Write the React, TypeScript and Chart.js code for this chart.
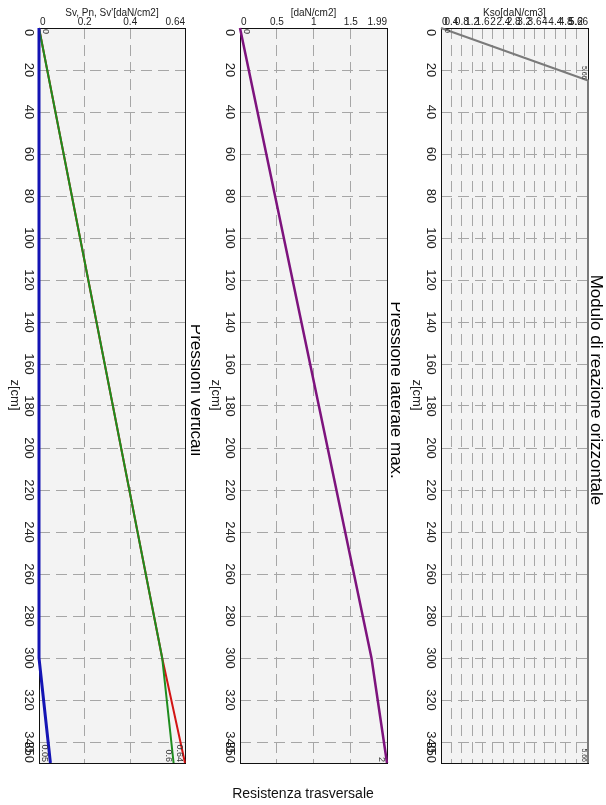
import React, { useEffect, useRef } from 'react';
import { Chart, registerables } from 'chart.js';

Chart.register(...registerables);

// ---------- data ----------
const depthTicks = [0, 20, 40, 60, 80, 100, 120, 140, 160, 180, 200, 220, 240, 260, 280, 300, 320, 340, 350];
const depthMax = 350;

const panel1XTicks = [0, 0.2, 0.4, 0.64];
const panel2XTicks = [0, 0.5, 1, 1.5, 1.99];
const panel3XTicks = [0, 0.4, 0.8, 1.2, 1.6, 2, 2.4, 2.8, 3.2, 3.6, 4, 4.4, 4.8, 5.2, 5.66];

// Pressioni verticali
const pnDepth = [0, 300, 350];
const pnValues = [0, 0, 0.05];
const svEffDepth = [0, 300, 350];
const svEffValues = [0, 0.54, 0.59];
const svDepth = [0, 300, 350];
const svValues = [0, 0.54, 0.64];

// Pressione laterale max.
const latDepth = [0, 300, 350];
const latValues = [0, 1.78, 1.99];

// Modulo di reazione orizzontale
const ksoDepth = [0, 25, 350];
const ksoValues = [0, 5.66, 5.66];

const panel1Labels = ['0', '0.05', '0.6', '0.64'];
const panel2Labels = ['0', '2'];
const panel3Labels = ['0', '5.66', '5.66'];

// ---------- layout ----------
const H = 805;
const PLOT_TOP = 28;
const PLOT_BOTTOM = 763;
const FONT = '"Liberation Sans", Arial, sans-serif';
const GRID = '#a6a6a6';

type LabelSpec = { ds: number; idx: number; text: string; at: 'start' | 'end'; size: number };
type Panel = {
  left: number;
  width: number;
  padLeft: number;
  padRight: number;
  xMax: number;
  xTicks: number[];
  xTitle: string;
  title: string;
  datasets: any[];
  labels: LabelSpec[];
};

const mk = (xs: number[], ys: number[], color: string, width: number) => ({
  data: xs.map((x, i) => ({ x, y: ys[i] })),
  borderColor: color,
  backgroundColor: color,
  borderWidth: width,
  showLine: true,
  pointRadius: 0,
  pointHoverRadius: 0,
  tension: 0,
  fill: false,
  clip: false,
});

const panels: Panel[] = [
  {
    left: 0,
    width: 200,
    padLeft: 39,
    padRight: 15,
    xMax: 0.64,
    xTicks: panel1XTicks,
    xTitle: "Sv, Pn, Sv'[daN/cm2]",
    title: 'Pressioni verticali',
    datasets: [
      mk(pnValues, pnDepth, '#1414b4', 3),
      mk(svEffValues, svEffDepth, '#1e8c1e', 2),
      mk(svValues, svDepth, '#d21414', 2),
    ],
    labels: [
      { ds: 1, idx: 0, text: panel1Labels[0], at: 'start', size: 9 },
      { ds: 0, idx: 2, text: panel1Labels[1], at: 'end', size: 9 },
      { ds: 1, idx: 2, text: panel1Labels[2], at: 'end', size: 9 },
      { ds: 2, idx: 2, text: panel1Labels[3], at: 'end', size: 9 },
    ],
  },
  {
    left: 200,
    width: 200,
    padLeft: 40,
    padRight: 13,
    xMax: 1.99,
    xTicks: panel2XTicks,
    xTitle: '[daN/cm2]',
    title: 'Pressione laterale max.',
    datasets: [mk(latValues, latDepth, '#7d137d', 2.5)],
    labels: [
      { ds: 0, idx: 0, text: panel2Labels[0], at: 'start', size: 9 },
      { ds: 0, idx: 2, text: panel2Labels[1], at: 'end', size: 9 },
    ],
  },
  {
    left: 400,
    width: 206,
    padLeft: 41,
    padRight: 18,
    xMax: 5.66,
    xTicks: panel3XTicks,
    xTitle: 'Kso[daN/cm3]',
    title: 'Modulo di reazione orizzontale',
    datasets: [mk(ksoValues, ksoDepth, '#7a7a7a', 2)],
    labels: [
      { ds: 0, idx: 0, text: panel3Labels[0], at: 'start', size: 7 },
      { ds: 0, idx: 1, text: panel3Labels[1], at: 'end', size: 7 },
      { ds: 0, idx: 2, text: panel3Labels[2], at: 'end', size: 7 },
    ],
  },
];

function rotText(ctx: CanvasRenderingContext2D, text: string, x: number, y: number, align: CanvasTextAlign, baseline: CanvasTextBaseline) {
  ctx.save();
  ctx.translate(x, y);
  ctx.rotate(Math.PI / 2);
  ctx.textAlign = align;
  ctx.textBaseline = baseline;
  ctx.fillText(text, 0, 0);
  ctx.restore();
}

function makePlugin(p: Panel) {
  return {
    id: 'panelDecor',
    beforeDraw(chart: any) {
      const { ctx, chartArea: a } = chart;
      ctx.save();
      ctx.fillStyle = '#f3f3f3';
      ctx.fillRect(a.left, a.top, a.right - a.left, a.bottom - a.top);
      ctx.restore();
    },
    beforeDatasetsDraw(chart: any) {
      const { ctx, chartArea: a } = chart;
      ctx.save();
      ctx.strokeStyle = '#111';
      ctx.lineWidth = 1;
      ctx.strokeRect(Math.round(a.left) + 0.5, Math.round(a.top) + 0.5, Math.round(a.right - a.left), Math.round(a.bottom - a.top));
      ctx.restore();
    },
    afterDraw(chart: any) {
      const { ctx, chartArea: a, scales } = chart;
      const xs = scales.x;
      const ys = scales.y;
      ctx.save();
      ctx.fillStyle = '#222';
      // x axis title
      ctx.font = `10px ${FONT}`;
      ctx.textAlign = 'center';
      ctx.textBaseline = 'middle';
      ctx.fillText(p.xTitle, (a.left + a.right) / 2, 13);
      // x tick labels
      p.xTicks.forEach((v, i) => {
        const px = xs.getPixelForValue(v);
        ctx.textAlign = i === 0 ? 'left' : i === p.xTicks.length - 1 ? 'right' : 'center';
        ctx.fillText(String(v), i === 0 ? px + 1 : px, 22);
      });
      // y tick labels (rotated)
      ctx.font = `13px ${FONT}`;
      depthTicks.forEach((v, i) => {
        const py = ys.getPixelForValue(v);
        const align: CanvasTextAlign = i === 0 ? 'left' : i === depthTicks.length - 1 ? 'right' : 'center';
        rotText(ctx, String(v), a.left - 10, i === 0 ? py + 1 : py, align, 'middle');
      });
      // z[cm]
      ctx.font = `13px ${FONT}`;
      rotText(ctx, 'z[cm]', a.left - 24, 395, 'center', 'middle');
      // panel title
      ctx.fillStyle = '#000';
      ctx.font = `17px ${FONT}`;
      rotText(ctx, p.title, 196, 390, 'center', 'middle');
      // point labels
      ctx.fillStyle = '#333';
      p.labels.forEach((l) => {
        const pt = chart.getDatasetMeta(l.ds).data[l.idx];
        ctx.font = `${l.size}px ${FONT}`;
        if (l.at === 'start') {
          rotText(ctx, l.text, pt.x + 2, pt.y + 1, 'left', 'bottom');
        } else {
          rotText(ctx, l.text, pt.x - 1, pt.y - 1, 'right', 'top');
        }
      });
      ctx.restore();
    },
  };
}

function PanelChart({ p }: { p: Panel }) {
  const ref = useRef<HTMLCanvasElement>(null);
  useEffect(() => {
    const canvas = ref.current!;
    const chart = new Chart(canvas, {
      type: 'scatter',
      data: { datasets: p.datasets },
      options: {
        animation: false,
        responsive: false,
        maintainAspectRatio: false,
        layout: { padding: { left: p.padLeft, right: p.padRight, top: PLOT_TOP, bottom: H - PLOT_BOTTOM } },
        plugins: { legend: { display: false }, tooltip: { enabled: false }, title: { display: false } },
        scales: {
          x: {
            type: 'linear',
            position: 'top',
            min: 0,
            max: p.xMax,
            afterBuildTicks: (s: any) => {
              s.ticks = p.xTicks.map((v) => ({ value: v }));
            },
            ticks: { display: false },
            grid: { color: GRID, lineWidth: 1, drawTicks: false },
            border: { display: false, dash: [11, 6] },
          },
          y: {
            type: 'linear',
            reverse: true,
            min: 0,
            max: depthMax,
            afterBuildTicks: (s: any) => {
              s.ticks = depthTicks.map((v) => ({ value: v }));
            },
            ticks: { display: false },
            grid: { color: GRID, lineWidth: 1, drawTicks: false },
            border: { display: false, dash: [11, 6] },
          },
        },
      } as any,
      plugins: [makePlugin(p)],
    });
    return () => chart.destroy();
  }, [p]);
  return <canvas ref={ref} width={p.width} height={H} style={{ position: 'absolute', left: p.left, top: 0, width: p.width, height: H }} />;
}

export default function App() {
  return (
    <div style={{ position: 'absolute', left: 0, top: 0, width: 606, height: H, background: '#fff', overflow: 'hidden' }}>
      {panels.map((p, i) => (
        <PanelChart key={i} p={p} />
      ))}
      <div
        style={{
          position: 'absolute',
          left: 0,
          top: 785,
          width: 606,
          textAlign: 'center',
          fontFamily: FONT,
          fontSize: 14,
          color: '#111',
          lineHeight: '17px',
        }}
      >
        Resistenza trasversale
      </div>
    </div>
  );
}
